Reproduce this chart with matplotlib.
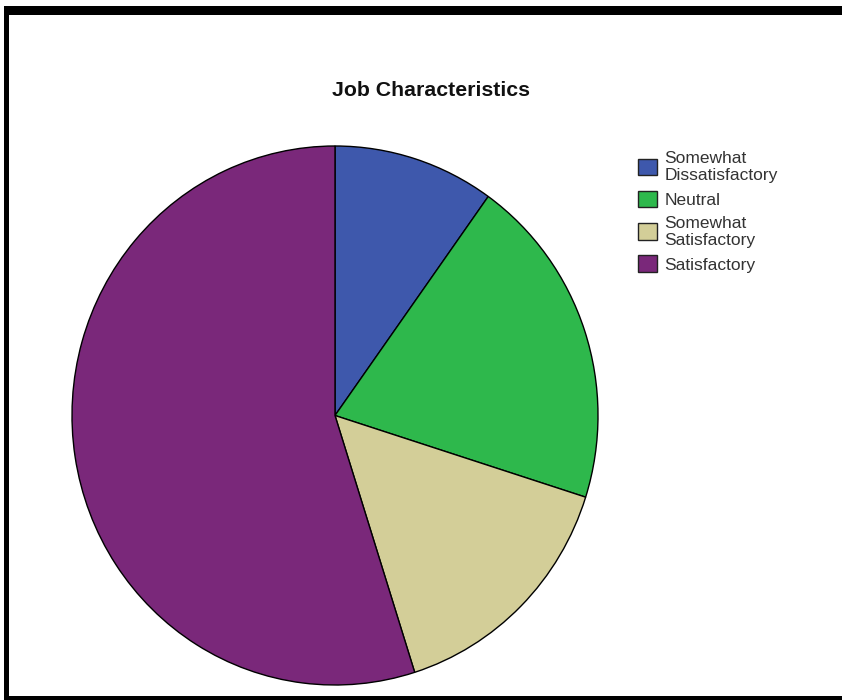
import matplotlib
matplotlib.use("Agg")
import matplotlib.pyplot as plt
from matplotlib.patches import Rectangle, Patch

plt.rcParams['font.family'] = ['Liberation Sans', 'DejaVu Sans']

# Job characteristics ratings (percent of respondents)
categories = ["Somewhat\nDissatisfactory", "Neutral", "Somewhat\nSatisfactory", "Satisfactory"]
percents = [9.9, 20.0, 15.2, 54.9]
colors = ["#3e58ac", "#2eb84c", "#d3ce98", "#7a287a"]

W, H = 842, 700
fig = plt.figure(figsize=(W / 100, H / 100), dpi=100)
fig.patch.set_facecolor("white")

# pie axes, sized in pixels
px0, py0, pw, ph = 72, 146, 526, 539
ax = fig.add_axes([px0 / W, 1 - (py0 + ph) / H, pw / W, ph / H])
wedges, _ = ax.pie(percents, colors=colors, startangle=90, counterclock=False,
                   radius=1.0, wedgeprops=dict(edgecolor="black", linewidth=1.0))
ax.set_aspect("auto")
ax.set_xlim(-1.0, 1.0)
ax.set_ylim(-1.0, 1.0)
ax.axis("off")

fig.text(431 / W, 1 - 90 / H, "Job Characteristics", ha="center", va="center",
         fontsize=15.3, fontweight="bold", color="#111111")

handles = [Patch(facecolor=c, edgecolor="#222222", linewidth=1.0) for c in colors]
leg = fig.legend(handles, categories, loc="upper left",
                 bbox_to_anchor=(626 / W, 1 - 139 / H), frameon=False,
                 fontsize=12.5, handlelength=1.1, handleheight=1.1,
                 handletextpad=0.4, labelspacing=0.45, borderpad=0.2)
for t in leg.get_texts():
    t.set_color("#333333")
    t.set_linespacing(1.15)

# black frame along top, left and bottom edges
for x, y, w, h in [(4, 6, W - 4, 9), (4, 6, 5, H - 6), (4, 696, W - 4, 4)]:
    fig.add_artist(Rectangle((x / W, 1 - (y + h) / H), w / W, h / H,
                             transform=fig.transFigure, facecolor="black",
                             edgecolor="none"))

fig.savefig("out.png", dpi=100)
